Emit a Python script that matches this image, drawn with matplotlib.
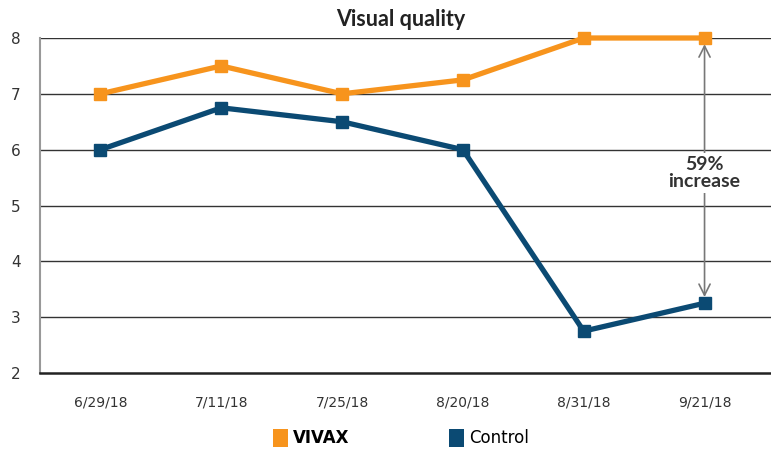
import matplotlib
matplotlib.use("Agg")
import matplotlib.pyplot as plt
from matplotlib.patches import Patch

dates = ["6/29/18", "7/11/18", "7/25/18", "8/20/18", "8/31/18", "9/21/18"]
vivax = [7, 7.5, 7, 7.25, 8, 8]
control = [6, 6.75, 6.5, 6, 2.75, 3.25]
yticks = [2, 3, 4, 5, 6, 7, 8]

orange = "#F7941D"
navy = "#0B4A73"

fig = plt.figure(figsize=(7.71, 4.49), dpi=100)
ax = fig.add_axes([40/771, 1-373/449, 1-40/771, (373-38)/449])

x = list(range(len(dates)))
ax.plot(x, vivax, color=orange, lw=3.8, marker="s", ms=8, zorder=3, clip_on=False)
ax.plot(x, control, color=navy, lw=3.8, marker="s", ms=8, zorder=3, clip_on=False)

ax.set_xlim(-0.5, 5.55)
ax.set_ylim(2, 8)
ax.set_yticks(yticks)
ax.set_xticks(x)
ax.set_xticklabels(dates)
for y in yticks[1:]:
    ax.axhline(y, color="#333333", lw=1.0, zorder=1)

for s in ["top", "right"]:
    ax.spines[s].set_visible(False)
ax.spines["left"].set_color("#999999")
ax.spines["left"].set_linewidth(1.5)
ax.spines["bottom"].set_color("#222222")
ax.spines["bottom"].set_linewidth(1.8)
ax.tick_params(length=0)
ax.tick_params(axis="x", pad=16, labelsize=10, labelcolor="#333333")
ax.tick_params(axis="y", pad=14, labelsize=11, labelcolor="#333333")

fig.text(0.52, 1-20/449, "Visual quality", ha="center", va="center",
         fontsize=15.5, fontweight="bold", color="#222222", family="Lato")

# double arrow annotation
ax.annotate("", xy=(5, vivax[5] - 0.06), xytext=(5, control[5] + 0.06),
            arrowprops=dict(arrowstyle="<->", color="#777777", lw=1.2,
                            mutation_scale=20), zorder=2)
ax.text(5, 5.58, "59%\nincrease", ha="center", va="center", fontsize=14,
        fontweight="bold", color="#333333", family="Lato", linespacing=1.0,
        bbox=dict(facecolor="white", edgecolor="none", pad=2), zorder=4)

handles = [Patch(facecolor=orange, edgecolor="none"),
           Patch(facecolor=navy, edgecolor="none")]
leg = fig.legend(handles, ["VIVAX", "Control"], loc="center",
                 bbox_to_anchor=(0.52, 1-438/449), ncol=2, frameon=False,
                 handlelength=0.9, handleheight=1.3, handletextpad=0.3,
                 columnspacing=6, prop={"size": 12})
leg.get_texts()[0].set_fontweight("bold")

fig.savefig("out.png", dpi=100)
